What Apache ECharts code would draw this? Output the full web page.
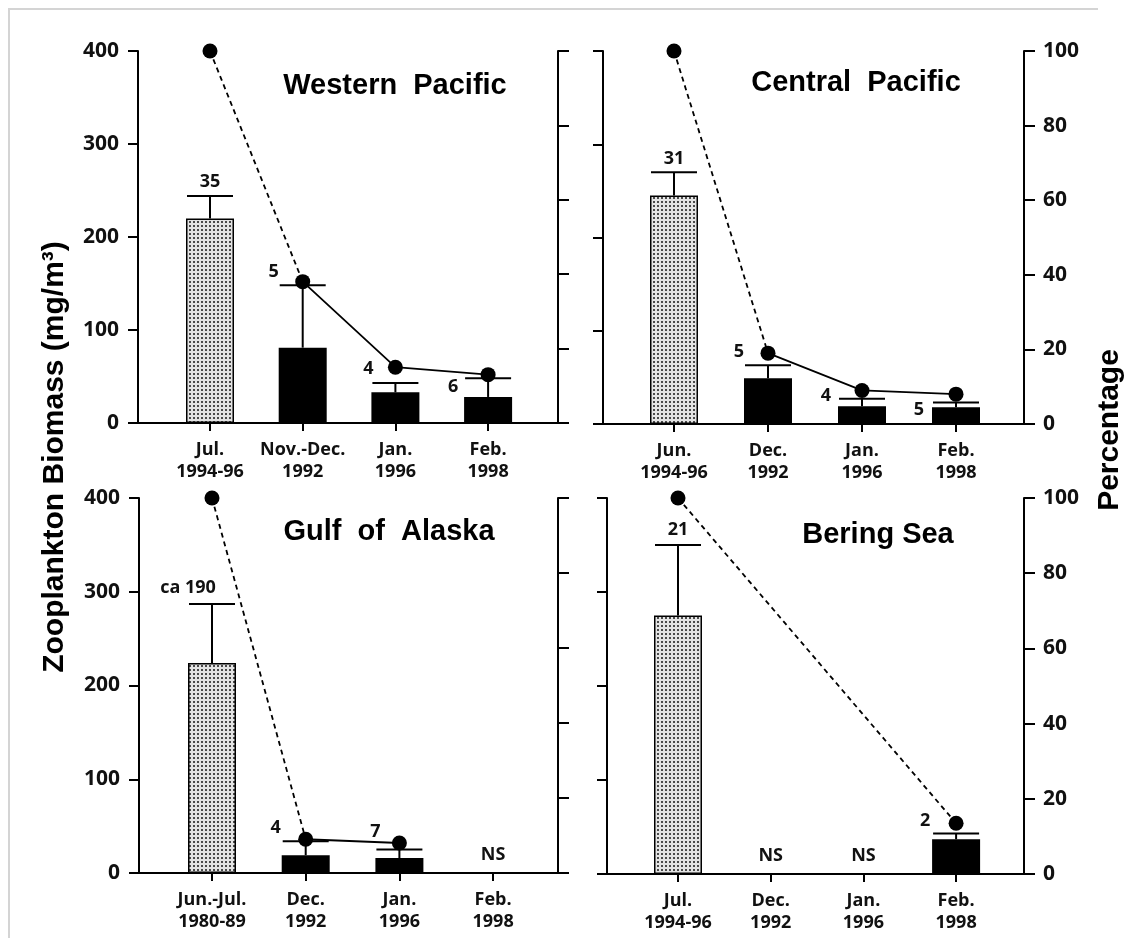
<!DOCTYPE html>
<html><head><meta charset="utf-8">
<script src="https://cdn.jsdelivr.net/npm/echarts@6/dist/echarts.min.js"></script>
<style>html,body{margin:0;padding:0;background:#fff}#c{width:1124px;height:938px}</style>
</head><body><div id="c"></div>
<script>
// ---- data ----
const biomassTicks = [0, 100, 200, 300, 400];
const percentTicks = [0, 20, 40, 60, 80, 100];

const categoriesWP = ['Jul.\n1994-96', 'Nov.-Dec.\n1992', 'Jan.\n1996', 'Feb.\n1998'];
const biomassWP = [220, 81, 33, 28];
const errorTopWP = [244, 148, 43, 48];
const percentWP = [100, 38, 15, 13];
const samplesWP = ['35', '5', '4', '6'];

const categoriesCP = ['Jun.\n1994-96', 'Dec.\n1992', 'Jan.\n1996', 'Feb.\n1998'];
const biomassCP = [245, 49, 19, 18];
const errorTopCP = [270, 63, 27, 23];
const percentCP = [100, 19, 9, 8];
const samplesCP = ['31', '5', '4', '5'];

const categoriesGA = ['Jun.-Jul.\n1980-89', 'Dec.\n1992', 'Jan.\n1996', 'Feb.\n1998'];
const biomassGA = [224, 19, 16, null];
const errorTopGA = [287, 34, 25, null];
const percentGA = [100, 9, 8, null];
const samplesGA = ['ca 190', '4', '7', 'NS'];

const categoriesBS = ['Jul.\n1994-96', 'Dec.\n1992', 'Jan.\n1996', 'Feb.\n1998'];
const biomassBS = [275, null, null, 37];
const errorTopBS = [350, null, null, 43];
const percentBS = [100, null, null, 13.5];
const samplesBS = ['21', 'NS', 'NS', '2'];

// ---- layout ----
const panels = [
  {title: 'Western  Pacific', cats: categoriesWP, bio: biomassWP, err: errorTopWP, pct: percentWP, n: samplesWP,
   box: [138, 51, 558, 423], cat0: 210, step: 92.7, titlePos: [395, 86], leftLabels: true, rightLabels: false,
   nOffset: [[0, -14], [-29, -13], [-27, -14], [-35, 9]]},
  {title: 'Central  Pacific', cats: categoriesCP, bio: biomassCP, err: errorTopCP, pct: percentCP, n: samplesCP,
   box: [603, 51, 1024, 424], cat0: 674, step: 94, titlePos: [856, 83], leftLabels: false, rightLabels: true,
   nOffset: [[0, -13], [-29, -13], [-36, -3], [-37, 7]]},
  {title: 'Gulf  of  Alaska', cats: categoriesGA, bio: biomassGA, err: errorTopGA, pct: percentGA, n: samplesGA,
   box: [139, 498, 558, 873], cat0: 212, step: 93.7, titlePos: [389, 532], leftLabels: true, rightLabels: false,
   nOffset: [[-24, -16], [-30, -13], [-24, -18], [0, 0]]},
  {title: 'Bering Sea', cats: categoriesBS, bio: biomassBS, err: errorTopBS, pct: percentBS, n: samplesBS,
   box: [607, 498, 1024, 874], cat0: 678, step: 92.7, titlePos: [878, 535], leftLabels: false, rightLabels: true,
   nOffset: [[0, -15], [0, 0], [0, 0], [-31, -13]]}
];

const LABEL_FONT = '"Open Sans", "Noto Sans", sans-serif';
const TITLE_FONT = '"Liberation Sans", Arial, sans-serif';

const stipple = (() => {
  const c = document.createElement('canvas'); c.width = 4; c.height = 4;
  const g = c.getContext('2d');
  g.fillStyle = '#e4e4e4'; g.fillRect(0, 0, 4, 4);
  g.fillStyle = '#4a4a4a'; g.fillRect(1, 1, 2, 2);
  return c;
})();

const grid = [], xAxis = [], yAxis = [], series = [], graphic = [];
const idx = [0, 1, 2, 3];

panels.forEach((p, k) => {
  const [l, t, r, b] = p.box;
  grid.push({left: l, top: t, width: r - l, height: b - t});
  xAxis.push({
    type: 'value', gridIndex: k,
    min: -(p.cat0 - l) / p.step, max: (r - p.cat0) / p.step,
    splitLine: {show: false},
    axisLine: {show: true, onZero: false, lineStyle: {color: '#000', width: 2}},
    axisTick: {show: true, customValues: idx, length: 8, lineStyle: {color: '#000', width: 2}},
    axisLabel: {show: true, customValues: idx, formatter: v => p.cats[Math.round(v)],
      color: '#111', fontFamily: LABEL_FONT, fontWeight: 'bold', fontSize: 18, lineHeight: 22, margin: 16}
  });
  yAxis.push({
    type: 'value', gridIndex: k, position: 'left',
    min: biomassTicks[0], max: biomassTicks[biomassTicks.length - 1], interval: biomassTicks[1] - biomassTicks[0],
    splitLine: {show: false},
    axisLine: {show: true, onZero: false, lineStyle: {color: '#000', width: 2}},
    axisTick: {show: true, length: 10, lineStyle: {color: '#000', width: 2}},
    axisLabel: {show: p.leftLabels, color: '#111', fontFamily: LABEL_FONT, fontWeight: 'bold', fontSize: 21, margin: 19}
  });
  yAxis.push({
    type: 'value', gridIndex: k, position: 'right',
    min: percentTicks[0], max: percentTicks[percentTicks.length - 1], interval: percentTicks[1] - percentTicks[0],
    splitLine: {show: false},
    axisLine: {show: true, onZero: false, lineStyle: {color: '#000', width: 2}},
    axisTick: {show: true, length: 11, lineStyle: {color: '#000', width: 2}},
    axisLabel: {show: p.rightLabels, color: '#111', fontFamily: LABEL_FONT, fontWeight: 'bold', fontSize: 21, margin: 19}
  });

  // bars
  const barData = [];
  p.bio.forEach((v, i) => {
    if (v == null) return;
    barData.push({value: [i, v], itemStyle: i === 0
      ? {color: {image: stipple, repeat: 'repeat'}, borderColor: '#000', borderWidth: 1.5}
      : {color: '#000'}});
  });
  series.push({type: 'bar', xAxisIndex: k, yAxisIndex: 2 * k, barWidth: 48, data: barData, z: 2, silent: true});

  // error bars + sample size numbers
  const errData = [];
  p.bio.forEach((v, i) => { if (v != null) errData.push([i, v, p.err[i]]); });
  series.push({
    type: 'custom', xAxisIndex: k, yAxisIndex: 2 * k, z: 3, silent: true, clip: false,
    data: errData,
    renderItem: (params, api) => {
      const i = api.value(0);
      const pb = api.coord([i, api.value(1)]);
      const pt = api.coord([i, api.value(2)]);
      const hw = 23;
      const off = p.nOffset[i];
      return {type: 'group', children: [
        {type: 'line', shape: {x1: pb[0], y1: pb[1], x2: pt[0], y2: pt[1]}, style: {stroke: '#000', lineWidth: 2}},
        {type: 'line', shape: {x1: pt[0] - hw, y1: pt[1], x2: pt[0] + hw, y2: pt[1]}, style: {stroke: '#000', lineWidth: 2}},
        {type: 'text', x: pt[0] + off[0], y: pt[1] + off[1], style: {text: p.n[i], fill: '#111',
          font: 'bold 18px ' + LABEL_FONT, align: 'center', verticalAlign: 'middle', textAlign: 'center', textVerticalAlign: 'middle'}}
      ]};
    }
  });

  // NS labels
  const nsData = [];
  p.bio.forEach((v, i) => { if (v == null) nsData.push([i, 0]); });
  if (nsData.length) series.push({
    type: 'custom', xAxisIndex: k, yAxisIndex: 2 * k, z: 3, silent: true, clip: false, data: nsData,
    renderItem: (params, api) => {
      const i = api.value(0);
      const c = api.coord([i, 0]);
      return {type: 'text', x: c[0], y: c[1] - 18, style: {text: p.n[i], fill: '#111',
        font: 'bold 18px ' + LABEL_FONT, align: 'center', verticalAlign: 'middle', textAlign: 'center', textVerticalAlign: 'middle'}};
    }
  });

  // percentage line
  const pts = [];
  p.pct.forEach((v, i) => { if (v != null) pts.push([i, v]); });
  series.push({type: 'line', xAxisIndex: k, yAxisIndex: 2 * k + 1, data: pts.slice(0, 2), showSymbol: false, clip: false,
    lineStyle: {color: '#000', width: 1.8, type: [5, 4], opacity: 1}, z: 4, silent: true});
  if (pts.length > 2) series.push({type: 'line', xAxisIndex: k, yAxisIndex: 2 * k + 1, data: pts.slice(1), showSymbol: false, clip: false,
    lineStyle: {color: '#000', width: 1.8, opacity: 1}, z: 4, silent: true});
  series.push({type: 'scatter', xAxisIndex: k, yAxisIndex: 2 * k + 1, data: pts, symbolSize: 15, clip: false,
    itemStyle: {color: '#000', opacity: 1}, z: 5, silent: true});

  graphic.push({type: 'text', x: p.titlePos[0], y: p.titlePos[1], z: 10,
    style: {text: p.title, fill: '#000', font: 'bold 29px ' + TITLE_FONT, align: 'center', verticalAlign: 'middle', textAlign: 'center', textVerticalAlign: 'middle'}});
});

graphic.push({type: 'text', x: 55, y: 457, rotation: Math.PI / 2, z: 10,
  style: {text: 'Zooplankton Biomass (mg/m³)', fill: '#000', font: 'bold 30px ' + TITLE_FONT, align: 'center', verticalAlign: 'middle', textAlign: 'center', textVerticalAlign: 'middle'}});
graphic.push({type: 'text', x: 1110, y: 430, rotation: Math.PI / 2, z: 10,
  style: {text: 'Percentage', fill: '#000', font: 'bold 30px ' + TITLE_FONT, align: 'center', verticalAlign: 'middle', textAlign: 'center', textVerticalAlign: 'middle'}});
// faint scan border
graphic.push({type: 'line', shape: {x1: 8, y1: 9, x2: 1098, y2: 9}, style: {stroke: '#d4d4d4', lineWidth: 2}, z: 0});
graphic.push({type: 'line', shape: {x1: 9, y1: 9, x2: 9, y2: 938}, style: {stroke: '#d4d4d4', lineWidth: 2}, z: 0});

const chart = echarts.init(document.getElementById('c'), null, {renderer: 'canvas'});
chart.setOption({animation: false, backgroundColor: '#fff', grid, xAxis, yAxis, series, graphic});
</script></body></html>
